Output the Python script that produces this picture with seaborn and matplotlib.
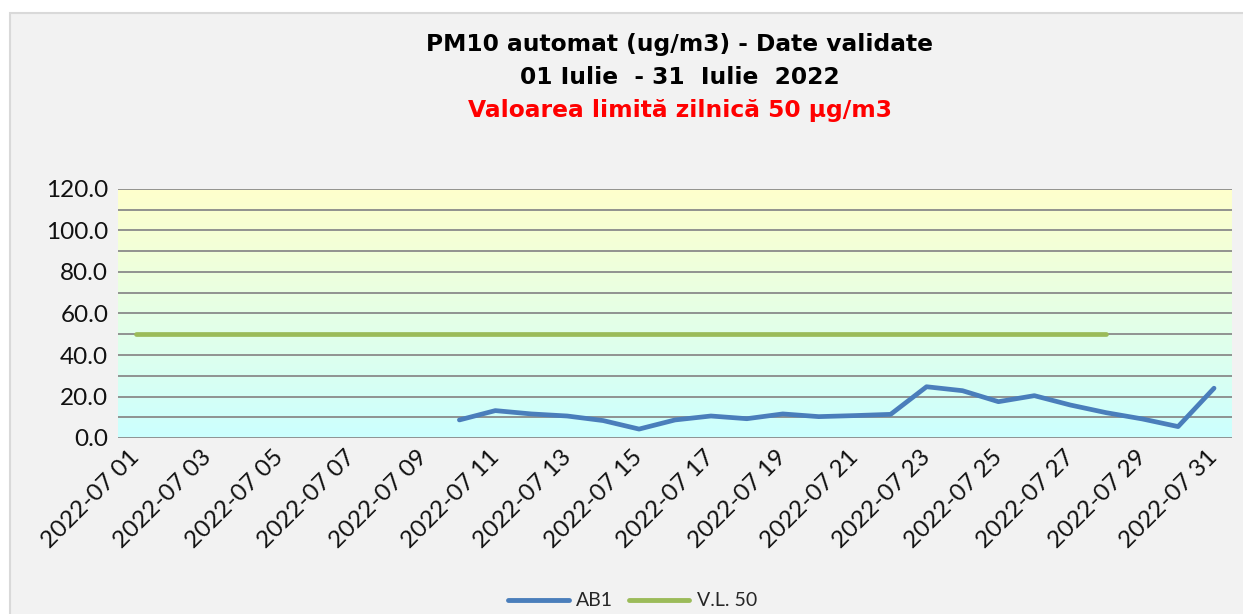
import numpy as np
import pandas as pd
import matplotlib.pyplot as plt
import matplotlib.transforms as mtrans
import seaborn as sns
from matplotlib.colors import LinearSegmentedColormap
from matplotlib.patches import Rectangle
from matplotlib.lines import Line2D

nan = np.nan

# data
days = [f"2022-07 {d:02d}" for d in range(1, 32)]
ab1 = [nan, nan, nan, nan, nan, nan, nan, nan, nan,
       8.7, 13.2, 11.6, 10.6, 8.4, 4.3, 8.7, 10.6, 9.3, 11.6, 10.3,
       10.8, 11.4, 24.7, 22.8, 17.5, 20.4, 15.9, 12.2, 9.2, 5.5, 24.0]
vl50 = [50.0] * 28 + [nan, nan, nan]
yticks = [0, 20, 40, 60, 80, 100, 120]

df = pd.DataFrame({"idx": range(len(days)), "AB1": ab1, "V.L. 50": vl50})
long = df.melt(id_vars="idx", var_name="series", value_name="val").dropna()

sns.set_theme(style="white")
plt.rcParams['font.family'] = ['Lato', 'DejaVu Sans']

fig = plt.figure(figsize=(12.43, 6.14), dpi=100, facecolor="white")
fig.patches.append(Rectangle((10 / 1243, -0.05), 1.0, 1 - 13 / 614 + 0.05,
                             transform=fig.transFigure, facecolor="#f2f2f2",
                             edgecolor="#d9d9d9", linewidth=1.5, zorder=-10))

ax = fig.add_axes([118 / 1243, 1 - 438 / 614, (1232 - 118) / 1243, (438 - 189) / 614])
ax.set_facecolor("none")

# gradient background: yellow at top, cyan at bottom
cmap = LinearSegmentedColormap.from_list("bg", ["#ccffff", "#ffffcc"])
grad = np.linspace(0, 1, 256).reshape(-1, 1)
ax.imshow(grad, cmap=cmap, origin="lower", aspect="auto",
          extent=[-0.5, len(days) - 0.5, 0, 120], zorder=0)

# horizontal grid every 10
for y in range(0, 130, 10):
    ax.axhline(y, color="#8a8a8a", linewidth=1.3, zorder=1)

pal = {"AB1": "#4a7ebb", "V.L. 50": "#9bbb59"}
sns.lineplot(data=long, x="idx", y="val", hue="series", palette=pal,
             linewidth=3.4, ax=ax, legend=False, zorder=3)

ax.set_xlim(-0.5, len(days) - 0.5)
ax.set_ylim(0, 120)
ax.set_yticks(yticks)
ax.set_yticklabels([f"{v:.1f}" for v in yticks], fontsize=17.5, color="#111111")
ax.set_xticks(range(0, len(days), 2))
ax.set_xticklabels(days[::2], rotation=45, ha="right", va="top",
                   rotation_mode="anchor", fontsize=17.5, color="#111111")
ax.tick_params(axis="both", length=0)
ax.tick_params(axis="x", pad=6)
ax.tick_params(axis="y", pad=7)
ax.set_xlabel("")
ax.set_ylabel("")
for s in ax.spines.values():
    s.set_visible(False)

# nudge the rotated date labels a little to the left
shift = mtrans.ScaledTranslation(-7 / 100, 0, fig.dpi_scale_trans)
for lab in ax.get_xticklabels():
    lab.set_transform(lab.get_transform() + shift)

# title lines
tkw = dict(ha="center", va="center", fontsize=16.8, fontweight="bold", family="DejaVu Sans")
fig.text(0.547, 1 - 45 / 614, "PM10 automat (ug/m3) - Date validate", color="black", **tkw)
fig.text(0.547, 1 - 77 / 614, "01 Iulie  - 31  Iulie  2022", color="black", **tkw)
fig.text(0.547, 1 - 110 / 614, "Valoarea limită zilnică 50 µg/m3", color="#ff0000", **tkw)

handles = [Line2D([], [], color=pal[k], linewidth=3.5) for k in pal]
fig.legend(handles, list(pal.keys()), loc="center", bbox_to_anchor=(0.509, 1 - 601 / 614),
           ncol=2, frameon=False, fontsize=14, handlelength=3.1, columnspacing=0.8,
           handletextpad=0.4)

fig.savefig("out.png", dpi=100, facecolor=fig.get_facecolor())
